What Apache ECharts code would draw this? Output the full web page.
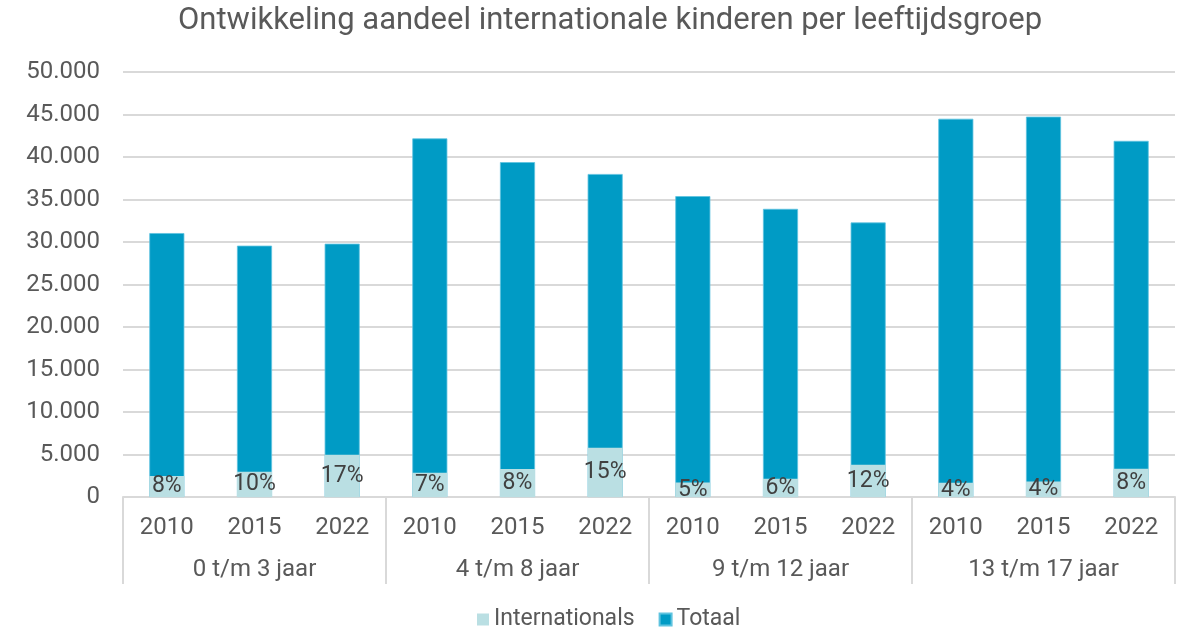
<!DOCTYPE html>
<html>
<head>
<meta charset="utf-8">
<script src="https://cdn.jsdelivr.net/npm/echarts@6/dist/echarts.min.js"></script>
<style>
  html, body { margin: 0; padding: 0; background: #fff; }
  #main { width: 1183px; height: 631px; }
</style>
</head>
<body>
<div id="main"></div>
<script>
var groups = ["0 t/m 3 jaar", "4 t/m 8 jaar", "9 t/m 12 jaar", "13 t/m 17 jaar"];
var years = ["2010", "2015", "2022"];
var totaal = [31050, 29570, 29800, 42190, 39400, 38000, 35400, 33900, 32300, 44500, 44750, 41900];
var internationals = [2480, 2960, 4960, 2840, 3300, 5780, 1700, 2140, 3780, 1670, 1830, 3320];
var percent = ["8%", "10%", "17%", "7%", "8%", "15%", "5%", "6%", "12%", "4%", "4%", "8%"];

var font = "Roboto, 'Liberation Sans', sans-serif";
var textColor = "#595959";

// categorie per jaar binnen groep
var cats = [];
groups.forEach(function (g) {
  years.forEach(function (y) {
    cats.push(g + "|" + y);
  });
});

function fmtNl(v) {
  return String(v).replace(/\B(?=(\d{3})+(?!\d))/g, ".");
}

var chartDom = document.getElementById("main");
var myChart = echarts.init(chartDom);
var option;

option = {
  animation: false,
  title: {
    text: "Ontwikkeling aandeel internationale kinderen per leeftijdsgroep",
    left: 173,
    top: 1,
    textStyle: {
      color: textColor,
      fontFamily: font,
      fontWeight: "normal",
      fontSize: 31,
    },
  },
  legend: {
    data: ["Internationals", "Totaal"],
    top: 603,
    left: 472,
    itemWidth: 12,
    itemHeight: 12,
    itemGap: 24,
    icon: "rect",
    textStyle: {
      color: textColor,
      fontFamily: font,
      fontSize: 23,
    },
  },
  grid: {
    left: 123,
    right: 8,
    top: 72,
    bottom: 134,
  },
  xAxis: [
    {
      type: "category",
      data: cats,
      position: "bottom",
      axisLine: { show: false },
      axisTick: { show: false },
      axisLabel: {
        margin: 19,
        color: textColor,
        fontFamily: font,
        fontSize: 24,
        formatter: function (v) {
          return v.split("|")[1];
        },
      },
    },
    {
      type: "category",
      data: groups,
      position: "bottom",
      axisLine: { show: true, lineStyle: { color: "#D9D9D9", width: 2 } },
      axisTick: {
        show: true,
        length: 87,
        lineStyle: { color: "#D9D9D9", width: 2 },
      },
      axisLabel: {
        margin: 61,
        color: textColor,
        fontFamily: font,
        fontSize: 24,
      },
    },
  ],
  yAxis: {
    type: "value",
    min: 0,
    max: 50000,
    interval: 5000,
    axisLine: { show: false },
    axisTick: { show: false },
    splitLine: { lineStyle: { color: "#D9D9D9", width: 2 } },
    axisLabel: {
      margin: 23,
      color: textColor,
      fontFamily: font,
      fontSize: 24,
      formatter: fmtNl,
    },
  },
  series: [
    {
      name: "Totaal",
      type: "bar",
      xAxisIndex: 0,
      barWidth: "40%",
      barGap: "-100%",
      data: totaal,
      itemStyle: { color: "#009BC5", borderColor: "#5EC3DF", borderWidth: 0.8 },
    },
    {
      name: "Internationals",
      type: "bar",
      xAxisIndex: 0,
      barWidth: "40%",
      barGap: "-100%",
      data: internationals,
      itemStyle: { color: "#BADFE3" },
      label: {
        show: true,
        position: "inside",
        color: "#404040",
        fontFamily: font,
        fontSize: 23,
        formatter: function (p) {
          return percent[p.dataIndex];
        },
      },
    },
  ],
};
myChart.setOption(option);
window.addEventListener("resize", function () {
  myChart.resize();
});
</script>
</body>
</html>
